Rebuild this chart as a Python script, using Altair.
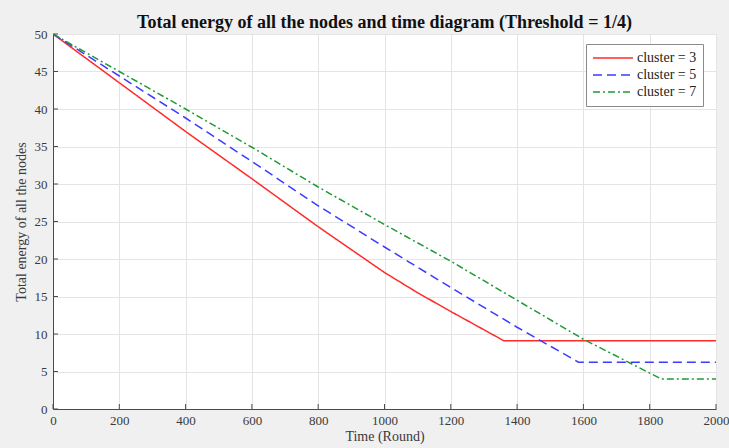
import altair as alt
import pandas as pd

# ---- data ----
series_names = ["cluster = 3", "cluster = 5", "cluster = 7"]

x_c3 = [0, 200, 400, 600, 800, 1000, 1100, 1200, 1360, 2000]
y_c3 = [50, 43.5, 37.0, 30.7, 24.3, 18.2, 15.5, 13.0, 9.1, 9.1]

x_c5 = [0, 200, 400, 600, 800, 1000, 1200, 1400, 1585, 2000]
y_c5 = [50, 44.4, 38.8, 33.0, 27.1, 21.6, 16.2, 10.9, 6.25, 6.25]

x_c7 = [0, 200, 400, 600, 800, 1000, 1200, 1400, 1600, 1835, 2000]
y_c7 = [50, 45.0, 40.0, 34.9, 29.6, 24.6, 19.7, 14.5, 9.3, 4.0, 4.0]

x_ticks = [0, 200, 400, 600, 800, 1000, 1200, 1400, 1600, 1800, 2000]
y_ticks = [0, 5, 10, 15, 20, 25, 30, 35, 40, 45, 50]

colors = ["#ff2b2b", "#3b3bff", "#1f9a35"]
dashes = [[1, 0], [9, 5], [7, 3, 2, 3]]

rows = []
for name, xs, ys in zip(series_names, [x_c3, x_c5, x_c7], [y_c3, y_c5, y_c7]):
    for xv, yv in zip(xs, ys):
        rows.append({"series": name, "round": xv, "energy": yv})
df = pd.DataFrame(rows)

FONT = "Liberation Serif"
AXIS_COLOR = "#4a4a4a"

x_scale = alt.Scale(domain=[0, 2000], nice=False, zero=False)
y_scale = alt.Scale(domain=[0, 50], nice=False)

x_axis = alt.Axis(values=x_ticks, title="Time (Round)", format="d",
                  labelPadding=5, titlePadding=2, labelFlush=False)
y_axis = alt.Axis(values=y_ticks, title="Total energy of all the nodes",
                  labelPadding=6, titlePadding=6, labelFlush=False)

legend_kw = dict(
    orient="none", legendX=533, legendY=10, title=None,
    symbolType="stroke", symbolSize=1600, symbolStrokeWidth=1.5,
    labelFont=FONT, labelFontSize=14, labelColor="#222222", labelOffset=3,
    fillColor="white", strokeColor="#8a8a8a", padding=6,
    clipHeight=16, rowPadding=1,
)

lines = alt.Chart(df).mark_line(strokeWidth=1.5, clip=True).encode(
    x=alt.X("round:Q", scale=x_scale, axis=x_axis),
    y=alt.Y("energy:Q", scale=y_scale, axis=y_axis),
    color=alt.Color("series:N", scale=alt.Scale(domain=series_names, range=colors),
                    legend=alt.Legend(**legend_kw)),
    strokeDash=alt.StrokeDash("series:N", scale=alt.Scale(domain=series_names, range=dashes),
                              legend=alt.Legend(**legend_kw)),
)

xt = alt.Chart(pd.DataFrame({"round": x_ticks})).mark_rule(color=AXIS_COLOR, strokeWidth=1).encode(
    x=alt.X("round:Q", scale=x_scale, axis=x_axis),
    y=alt.value(375), y2=alt.value(370),
)
yt = alt.Chart(pd.DataFrame({"energy": y_ticks})).mark_rule(color=AXIS_COLOR, strokeWidth=1).encode(
    y=alt.Y("energy:Q", scale=y_scale, axis=y_axis),
    x=alt.value(0), x2=alt.value(5),
)

chart = alt.layer(lines, xt, yt).properties(
    width=663, height=375,
    padding={"left": 53, "top": 34, "right": 13, "bottom": 39},
    autosize=alt.AutoSizeParams(type="none"),
    background="#f0f0f0",
    title=alt.TitleParams(
        text="Total energy of all the nodes and time diagram (Threshold = 1/4)",
        font=FONT, fontSize=18, fontWeight="bold", color="#111111",
        anchor="middle", offset=-4,
    ),
).configure_view(
    fill="white", stroke="#c8c8c8", strokeWidth=1,
).configure_axis(
    domainColor=AXIS_COLOR, domainWidth=1, ticks=False,
    gridColor="#e4e4e4", gridWidth=1,
    labelFont=FONT, labelFontSize=13, labelColor="#3a3a3a",
    titleFont=FONT, titleFontSize=14, titleFontWeight="normal", titleColor="#3a3a3a",
)

chart.save("out.html", embed_options={"renderer": "svg", "actions": False})
